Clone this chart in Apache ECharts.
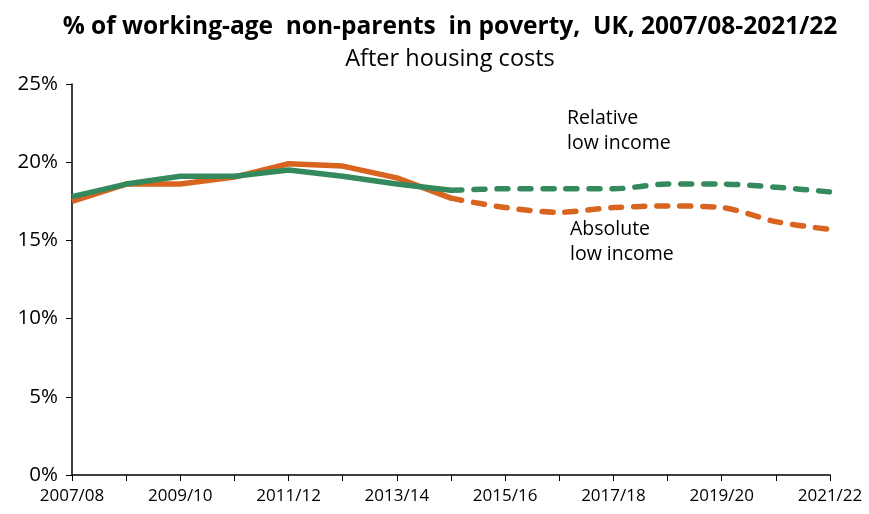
<!DOCTYPE html>
<html>
<head>
<meta charset="utf-8">
<script src="https://cdn.jsdelivr.net/npm/echarts@6/dist/echarts.min.js"></script>
<style>
  html, body { margin: 0; padding: 0; background: #fff; }
  #chart { width: 869px; height: 514px; }
</style>
</head>
<body>
<div id="chart"></div>
<script>
var years = ["2007/08", "2008/09", "2009/10", "2010/11", "2011/12", "2012/13", "2013/14", "2014/15",
  "2015/16", "2016/17", "2017/18", "2018/19", "2019/20", "2020/21", "2021/22"];
var relative = [17.8, 18.6, 19.1, 19.1, 19.5, 19.1, 18.6, 18.2, 18.3, 18.3, 18.3, 18.6, 18.6, 18.4, 18.1];
var absolute = [17.5, 18.6, 18.6, 19.05, 19.9, 19.75, 19.0, 17.7, 17.1, 16.8, 17.1, 17.2, 17.1, 16.2, 15.7];
var splitAt = 7; // 2014/15: solid up to here, dashed after

var green = "#358a5d";
var orange = "#d8641f";

function part(arr, dashed) {
  return arr.map(function (v, i) {
    if (dashed) return i >= splitAt ? v : null;
    return i <= splitAt ? v : null;
  });
}

function line(name, data, color, dashed) {
  return {
    name: name,
    type: "line",
    data: data,
    showSymbol: false,
    smooth: dashed ? 0.3 : false,
    connectNulls: false,
    z: color === green ? 3 : 2,
    lineStyle: {
      color: color,
      width: 5.5,
      type: dashed ? [11, 12] : "solid",
      cap: dashed ? "round" : "butt",
      join: "round"
    }
  };
}

var chart = echarts.init(document.getElementById("chart"));
chart.setOption({
  animation: false,
  title: [
    {
      text: "% of working-age  non-parents  in poverty,  UK, 2007/08-2021/22",
      left: 445, top: 10, textAlign: "center",
      textStyle: { fontFamily: "Open Sans", fontWeight: "bold", fontSize: 24.5, color: "#000" }
    },
    {
      text: "After housing costs",
      left: 445, top: 42, textAlign: "center",
      textStyle: { fontFamily: "Open Sans", fontWeight: "normal", fontSize: 23.5, color: "#000" }
    }
  ],
  graphic: [
    { type: "text", left: 567, top: 106, style: { text: "Relative\nlow income", fontFamily: "Open Sans", fontSize: 19.5, lineHeight: 25, fill: "#000" } },
    { type: "text", left: 570, top: 217, style: { text: "Absolute\nlow income", fontFamily: "Open Sans", fontSize: 19.5, lineHeight: 25, fill: "#000" } }
  ],
  grid: { left: 72, right: 39, top: 84, bottom: 39 },
  xAxis: {
    type: "category",
    data: years,
    boundaryGap: false,
    axisLine: { lineStyle: { color: "#000", width: 1.5 } },
    axisTick: { show: true, interval: 0, length: 6, lineStyle: { color: "#000" } },
    axisLabel: { interval: 1, color: "#000", fontFamily: "Open Sans", fontSize: 17, margin: 13 },
    splitLine: { show: false }
  },
  yAxis: {
    type: "value",
    min: 0, max: 25, interval: 5,
    axisLine: { show: true, lineStyle: { color: "#000", width: 1.5 } },
    axisTick: { show: true, length: 6, lineStyle: { color: "#000" } },
    axisLabel: { formatter: "{value}%", color: "#000", fontFamily: "Open Sans", fontSize: 20.5, margin: 14 },
    splitLine: { show: false }
  },
  series: [
    line("Absolute low income", part(absolute, false), orange, false),
    line("Absolute low income (dashed)", part(absolute, true), orange, true),
    line("Relative low income", part(relative, false), green, false),
    line("Relative low income (dashed)", part(relative, true), green, true)
  ]
});
</script>
</body>
</html>
